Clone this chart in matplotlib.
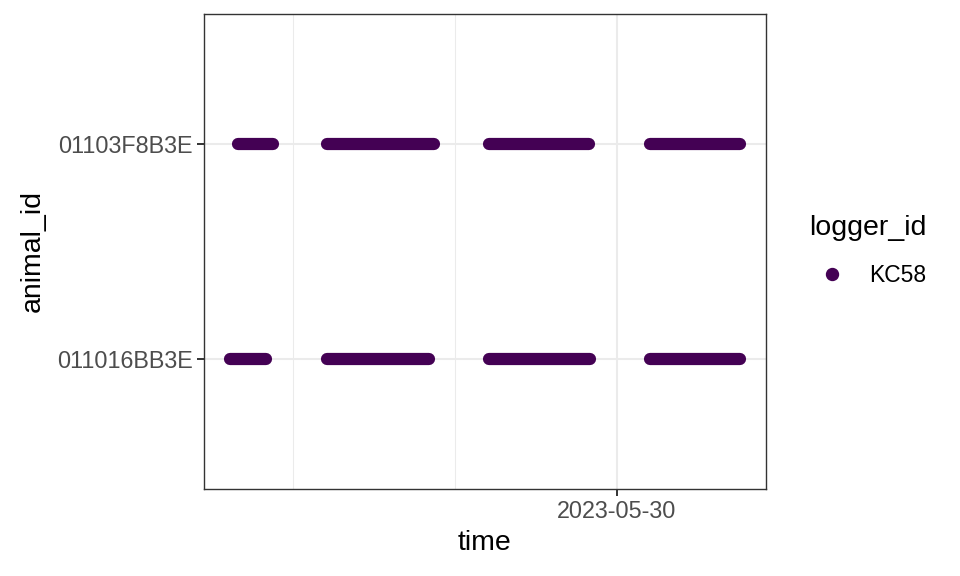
import numpy as np
import matplotlib
matplotlib.use("Agg")
import matplotlib.pyplot as plt
import matplotlib.dates as mdates
from matplotlib.lines import Line2D

plt.rcParams['font.family'] = ['Liberation Sans', 'DejaVu Sans']

# detection bouts per animal (first and last detection of each bout)
animal_ids = ["011016BB3E", "01103F8B3E"]
bout_animal = ["01103F8B3E"] * 4 + ["011016BB3E"] * 4
bout_start = ["2023-05-27 15:44", "2023-05-28 05:01", "2023-05-29 05:06", "2023-05-30 04:52",
              "2023-05-27 14:33", "2023-05-28 05:01", "2023-05-29 05:06", "2023-05-30 04:52"]
bout_end = ["2023-05-27 21:03", "2023-05-28 20:49", "2023-05-29 19:52", "2023-05-30 18:19",
            "2023-05-27 20:01", "2023-05-28 20:05", "2023-05-29 20:01", "2023-05-30 18:19"]
logger_id = "KC58"
major_ticks = ["2023-05-30"]
minor_ticks = ["2023-05-28", "2023-05-29"]

col = "#440154"
grid_col = "#ebebeb"

fig = plt.figure(figsize=(9.6, 5.76), dpi=100)
ax = fig.add_axes([204 / 960, 1 - 489 / 576, 562 / 960, 475 / 576])

t0 = mdates.datestr2num(bout_start)
t1 = mdates.datestr2num(bout_end)
ypos = [animal_ids.index(a) + 1 for a in bout_animal]
ax.hlines(ypos, t0, t1, colors=col, linewidth=8.8, capstyle='round', zorder=3)

ax.set_xticks(mdates.datestr2num(major_ticks))
ax.set_xticklabels(major_ticks)
ax.set_xticks(mdates.datestr2num(minor_ticks), minor=True)
ax.set_yticks([1, 2])
ax.set_yticklabels(animal_ids)

# ggplot-like 5% expansion, set after ticks so they don't widen the view
lo, hi = min(t0.min(), t1.min()), max(t0.max(), t1.max())
pad = (hi - lo) * 0.05
ax.set_xlim(lo - pad, hi + pad)
ax.set_ylim(0.4, 2.6)

ax.grid(True, which='major', color=grid_col, linewidth=1.45, zorder=0)
ax.grid(True, which='minor', axis='x', color=grid_col, linewidth=0.75, zorder=0)
ax.set_axisbelow(True)

for s in ax.spines.values():
    s.set_color("#333333")
    s.set_linewidth(1.0)
ax.tick_params(which='major', length=5.2, width=1.4, color="#333333",
               labelsize=16.8, labelcolor="#4d4d4d", pad=3)
ax.tick_params(which='minor', length=0)

ax.set_xlabel("time", fontsize=20.5, labelpad=5)
ax.set_ylabel("animal_id", fontsize=20.5, labelpad=8)

h = Line2D([], [], linestyle='none', marker='o', markersize=8.6, color=col)
leg = ax.legend([h], [logger_id], title="logger_id", frameon=False,
                loc='upper left', bbox_to_anchor=(800 / 960, 1 - 206 / 576),
                bbox_transform=fig.transFigure, fontsize=16.5, title_fontsize=20.5,
                handletextpad=0.6, labelspacing=1.0, borderaxespad=0)
leg._legend_box.align = "left"

fig.savefig("out.png", dpi=100)
